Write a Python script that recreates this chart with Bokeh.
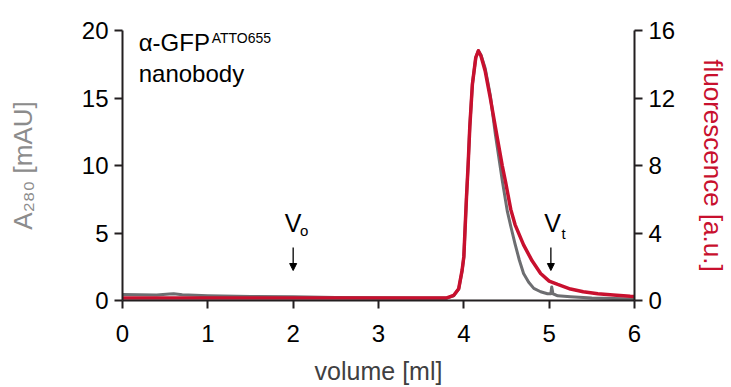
from bokeh.plotting import figure
from bokeh.models import Range1d, LinearAxis, Label, Arrow, NormalHead, FixedTicker
from bokeh.embed import file_html
from bokeh.resources import INLINE

# ---- data ----
vol_a = [0.0, 0.2, 0.4, 0.55, 0.6, 0.7, 1.0, 1.5, 2.0, 2.5, 3.0, 3.5, 3.8, 3.88, 3.94,
         3.98, 4.0, 4.03, 4.05, 4.07, 4.1, 4.14, 4.17, 4.2, 4.25, 4.31, 4.37, 4.45,
         4.51, 4.55, 4.6, 4.65, 4.7, 4.76, 4.82, 4.9, 4.98, 5.02, 5.03, 5.045, 5.1,
         5.25, 5.5, 5.75, 6.0]
a280 = [0.45, 0.42, 0.4, 0.48, 0.5, 0.42, 0.35, 0.3, 0.28, 0.22, 0.2, 0.18, 0.18, 0.35, 0.85,
        2.2, 3.2, 7.5, 10.0, 12.9, 16.0, 18.0, 18.5, 18.2, 17.2, 15.2, 12.3, 8.9,
        6.6, 5.5, 4.2, 3.0, 2.0, 1.35, 0.9, 0.65, 0.5, 0.5, 1.0, 0.5, 0.35,
        0.28, 0.18, 0.14, 0.12]

vol_f = [0.0, 1.0, 2.0, 3.0, 3.8, 3.88, 3.94, 3.98, 4.0, 4.03, 4.05, 4.07, 4.1, 4.14,
         4.17, 4.2, 4.25, 4.31, 4.39, 4.45, 4.49, 4.55, 4.6, 4.7, 4.8, 4.9, 5.0, 5.1,
         5.25, 5.4, 5.57, 5.75, 5.95, 6.0]
fluor = [0.15, 0.15, 0.15, 0.15, 0.15, 0.3, 0.7, 1.8, 2.6, 6.0, 8.0, 10.3, 12.8, 14.4,
         14.8, 14.5, 13.6, 12.0, 9.7, 8.0, 7.0, 5.4, 4.5, 3.3, 2.35, 1.6, 1.15, 0.95,
         0.68, 0.52, 0.4, 0.32, 0.25, 0.24]

x_ticks = [0, 1, 2, 3, 4, 5, 6]
a_ticks = [0, 5, 10, 15, 20]
f_ticks = [0, 4, 8, 12, 16]

FONT = "Liberation Sans"
AXIS_COLOR = "#231f20"
RED = "#c8102e"
GRAY = "#6d6e71"

p = figure(frame_width=512, frame_height=270,
           x_range=Range1d(0, 6), y_range=Range1d(0, 20),
           output_backend="svg", toolbar_location=None,
           min_border_left=122, min_border_right=89,
           min_border_top=30, min_border_bottom=84)
p.outline_line_color = None
p.grid.visible = False
p.background_fill_color = "white"

p.extra_y_ranges = {"fl": Range1d(0, 16)}
right = LinearAxis(y_range_name="fl")
p.add_layout(right, "right")

p.xaxis.ticker = FixedTicker(ticks=x_ticks)
p.yaxis[0].ticker = FixedTicker(ticks=a_ticks)
right.ticker = FixedTicker(ticks=f_ticks)

for ax in [p.xaxis[0], p.yaxis[0], right]:
    ax.axis_line_width = 2
    ax.axis_line_color = AXIS_COLOR
    ax.major_tick_line_width = 2
    ax.major_tick_line_color = AXIS_COLOR
    ax.major_tick_in = 0
    ax.major_tick_out = 8
    ax.minor_tick_line_color = None
    ax.major_label_text_font = FONT
    ax.major_label_text_font_size = "24px"
    ax.major_label_text_color = "black"
    ax.major_label_standoff = 6
    ax.axis_label_text_font = FONT
    ax.axis_label_text_font_style = "normal"
    ax.axis_label_text_font_size = "25px"

p.xaxis.axis_label = "volume [ml]"
p.xaxis.axis_label_text_color = "#404041"
p.xaxis.major_label_standoff = 16
p.xaxis.axis_label_standoff = 12

p.yaxis[0].axis_label = "A₂₈₀ [mAU]"
p.yaxis[0].axis_label_text_color = "#8c8c8c"
p.yaxis[0].axis_label_text_font_size = "26px"
p.yaxis[0].axis_label_standoff = 41

right.axis_label = "fluorescence [a.u.]"
right.axis_label_text_color = RED
right.axis_label_text_font_size = "26px"
right.axis_label_standoff = 20

p.line(vol_a, a280, line_color=GRAY, line_width=3, line_join="round")
p.line(vol_f, fluor, y_range_name="fl", line_color=RED, line_width=3.5, line_join="round")

# ---- annotations ----
txt = dict(text_font=FONT, text_color="black", text_baseline="alphabetic")
p.add_layout(Label(x=0.19, y=18.5, y_offset=8, text="α-GFP", text_font_size="24px", **txt))
p.add_layout(Label(x=1.045, y=18.5, y_offset=13, text="ATTO655", text_font_size="14px", **txt))
p.add_layout(Label(x=0.19, y=16.4, y_offset=6, text="nanobody", text_font_size="24px", **txt))

p.add_layout(Label(x=2.0, y=5.04, y_offset=9, text="V", text_font_size="25px", text_align="center", **txt))
p.add_layout(Label(x=2.0, y=4.5, y_offset=9, x_offset=11, text="o", text_font_size="15px", text_align="center", **txt))
p.add_layout(Label(x=5.04, y=5.04, y_offset=9, text="V", text_font_size="25px", text_align="center", **txt))
p.add_layout(Label(x=5.04, y=4.3, y_offset=9, x_offset=11, text="t", text_font_size="15px", text_align="center", **txt))

for xv in [2.0, 5.02]:
    p.add_layout(Arrow(x_start=xv, y_start=3.93, x_end=xv, y_end=2.22,
                       line_color="black", line_width=1.3,
                       end=NormalHead(size=7, fill_color="black", line_color="black", line_width=1)))

open("out.html", "w").write(file_html(p, INLINE))
